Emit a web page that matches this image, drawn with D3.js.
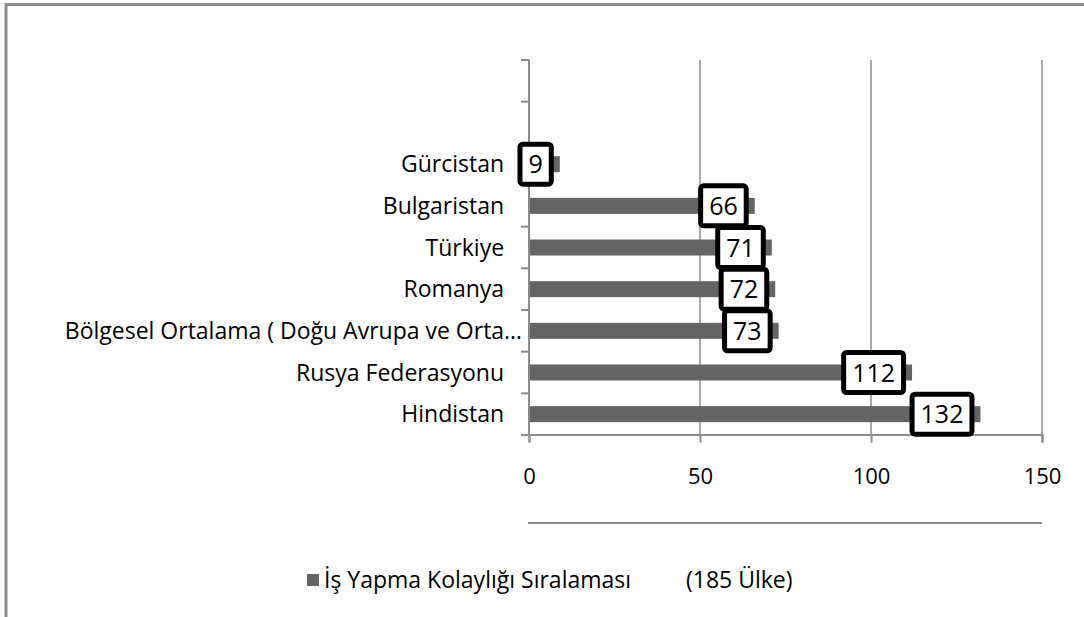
<!DOCTYPE html>
<meta charset="utf-8">
<script src="https://cdn.jsdelivr.net/npm/d3@7"></script>
<style>
body { margin: 0; background: #fff; }
text { font-family: "Open Sans", Lato, sans-serif; fill: #000; white-space: pre; }
</style>
<body>
<script>
// categories top -> bottom (two empty slots at the top, as in the original)
var categories = ["", " ", "Gürcistan   ", "Bulgaristan   ", "Türkiye   ", "Romanya   ",
  "Bölgesel Ortalama ( Doğu Avrupa ve Orta…", "Rusya Federasyonu   ", "Hindistan   "];
var values = [null, null, 9, 66, 71, 72, 73, 112, 132];
var xTicks = [0, 50, 100, 150];
var seriesName = "İş Yapma Kolaylığı Sıralaması";
var seriesNote = "(185 Ülke)";

var width = 1084, height = 617;
var barColor = "#646464", gridColor = "#8c8c8c";

var svg = d3.select("body").append("svg")
    .attr("width", width)
    .attr("height", height);

// outer chart frame (cropped on the right and bottom)
svg.append("rect")
    .attr("x", 6).attr("y", 4.5)
    .attr("width", 1200).attr("height", 800)
    .attr("fill", "none")
    .attr("stroke", gridColor)
    .attr("stroke-width", 3);

var x = d3.scaleLinear().domain([0, 150]).range([529, 1042]);
var y = d3.scaleBand().domain(d3.range(categories.length)).range([60, 435]).padding(0);
var barH = 16;

// vertical gridlines
svg.append("g")
  .selectAll("line")
  .data(xTicks.slice(1))
  .enter().append("line")
    .attr("x1", function(d) { return x(d); })
    .attr("x2", function(d) { return x(d); })
    .attr("y1", 60).attr("y2", 435)
    .attr("stroke", gridColor)
    .attr("stroke-width", 1.5);

// bottom axis
var xAxis = d3.axisBottom(x).tickValues(xTicks).tickSize(8).tickPadding(26);
var gx = svg.append("g")
    .attr("transform", "translate(0,434.5)")
    .call(xAxis);
gx.select(".domain").attr("stroke", gridColor).attr("stroke-width", 2);
gx.selectAll(".tick line").attr("stroke", gridColor).attr("stroke-width", 2);
gx.selectAll(".tick text").attr("font-size", 22).attr("font-family", "Open Sans");

// left axis: ticks at slot boundaries
var gy = svg.append("g");
gy.append("line")
    .attr("x1", 529).attr("x2", 529)
    .attr("y1", 60).attr("y2", 435)
    .attr("stroke", gridColor).attr("stroke-width", 2);
gy.selectAll("line.tk")
  .data(d3.range(categories.length + 1))
  .enter().append("line")
    .attr("class", "tk")
    .attr("x1", 521).attr("x2", 529)
    .attr("y1", function(i) { return 60 + i * y.step(); })
    .attr("y2", function(i) { return 60 + i * y.step(); })
    .attr("stroke", gridColor).attr("stroke-width", 2);

gy.selectAll("text")
  .data(categories)
  .enter().append("text")
    .attr("x", 522)
    .attr("y", function(d, i) { return y(i) + y.bandwidth() / 2; })
    .attr("dy", "0.35em")
    .attr("text-anchor", "end")
    .attr("font-size", 23)
    .text(function(d) { return d; });

var rows = values.map(function(v, i) { return {v: v, i: i}; })
    .filter(function(d) { return d.v != null; });

// bars
svg.append("g")
  .selectAll("rect")
  .data(rows)
  .enter().append("rect")
    .attr("x", x(0) + 1)
    .attr("y", function(d) { return y(d.i) + y.bandwidth() / 2 - barH / 2; })
    .attr("width", function(d) { return x(d.v) - x(0) - 1; })
    .attr("height", barH)
    .attr("fill", barColor);

// data labels in bordered boxes
var lab = svg.append("g")
  .selectAll("g")
  .data(rows)
  .enter().append("g");

lab.append("rect").attr("class", "box");
lab.append("text")
    .attr("font-size", 25)
    .attr("text-anchor", "middle")
    .attr("dy", "0.36em")
    .text(function(d) { return d.v; });

lab.each(function(d) {
  var g = d3.select(this);
  var tw = g.select("text").node().getComputedTextLength();
  var w = tw + 17, h = 40;
  var cx = x(d.v) - 6 - 2.5 - w / 2;
  var cy = y(d.i) + y.bandwidth() / 2;
  g.select("rect")
    .attr("x", cx - w / 2).attr("y", cy - h / 2)
    .attr("width", w).attr("height", h)
    .attr("rx", 3)
    .attr("fill", "#fff")
    .attr("stroke", "#000")
    .attr("stroke-width", 5);
  g.select("text").attr("x", cx).attr("y", cy);
});

// separator line above legend
svg.append("line")
    .attr("x1", 528).attr("x2", 1042)
    .attr("y1", 523).attr("y2", 523)
    .attr("stroke", gridColor).attr("stroke-width", 2);

// legend
var leg = svg.append("g").attr("transform", "translate(307,574)");
leg.append("rect")
    .attr("width", 12).attr("height", 12)
    .attr("fill", barColor);
leg.append("text")
    .attr("x", 17).attr("y", 6)
    .attr("dy", "0.35em")
    .attr("font-size", 23)
    .text(seriesName);
leg.append("text")
    .attr("x", 379).attr("y", 6)
    .attr("dy", "0.35em")
    .attr("font-size", 23)
    .text(seriesNote);
</script>
</body>
